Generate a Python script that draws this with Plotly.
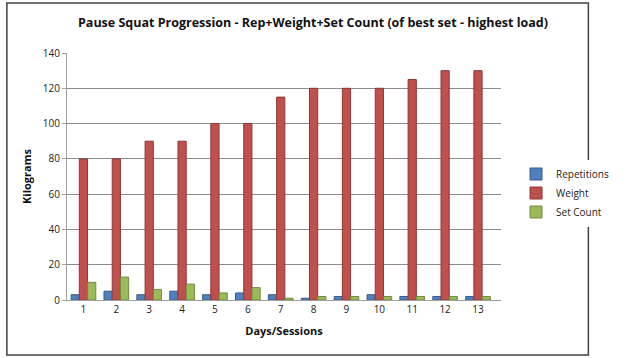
import plotly.graph_objects as go

days = [str(i) for i in range(1, 14)]
repetitions = [3, 5, 3, 5, 3, 4, 3, 1, 2, 3, 2, 2, 2]
weight = [80, 80, 90, 90, 100, 100, 115, 120, 120, 120, 125, 130, 130]
set_count = [10, 13, 6, 9, 4, 7, 1, 2, 2, 2, 2, 2, 2]
y_ticks = [0, 20, 40, 60, 80, 100, 120, 140]

W, H = 626, 358
L, R, T, B = 67, 97, 53, 58

FONT = "Open Sans"

fig = go.Figure()
fig.add_trace(go.Bar(x=days, y=repetitions, name="Repetitions",
                     marker=dict(color="#4F81BD", line=dict(color="#385D8A", width=1))))
fig.add_trace(go.Bar(x=days, y=weight, name="Weight",
                     marker=dict(color="#C0504D", line=dict(color="#8C3836", width=1))))
fig.add_trace(go.Bar(x=days, y=set_count, name="Set Count",
                     marker=dict(color="#9BBB59", line=dict(color="#71893F", width=1))))

pw = W - L - R
ph = H - T - B


def px_x(p):
    return (p - L) / pw


def px_y(p):
    return (H - B - p) / ph


fig.update_layout(
    width=W, height=H,
    margin=dict(l=L, r=R, t=T, b=B),
    paper_bgcolor="white", plot_bgcolor="white",
    barmode="group", bargap=0.25, bargroupgap=0.0,
    font=dict(family=FONT, size=10, color="#222"),
    title=dict(text="<b>Pause Squat Progression - Rep+Weight+Set Count (of best set - highest load)</b>",
               x=0.5, xanchor="center", y=1 - 23 / H, yanchor="middle",
               font=dict(family=FONT, size=12.5, color="#111")),
    legend=dict(x=px_x(545), xanchor="left", y=px_y(193), yanchor="middle",
                font=dict(family=FONT, size=10, color="#222"),
                itemwidth=30, tracegroupgap=2),
    xaxis=dict(title=dict(text="<b>Days/Sessions</b>", font=dict(family=FONT, size=11, color="#111"), standoff=12),
               range=[-0.5, 12.7],
               showline=True, linecolor="#A0A0A0", ticks="", tickfont=dict(size=10)),
    yaxis=dict(title=dict(text="<b>Kilograms</b>", font=dict(family=FONT, size=11, color="#111"), standoff=8),
               range=[0, 140], tickvals=y_ticks, showgrid=True, gridcolor="#8C8C8C", gridwidth=1,
               showline=True, linecolor="#A0A0A0", ticks="outside", ticklen=4, tickcolor="#A0A0A0",
               tickfont=dict(size=10), zeroline=False),
    shapes=[dict(type="rect", xref="paper", yref="paper",
                 x0=px_x(3), x1=px_x(622),
                 y0=px_y(355), y1=px_y(3),
                 line=dict(color="#404040", width=1.5), fillcolor="rgba(0,0,0,0)")],
)

fig.write_html("out.html", config={"displayModeBar": False},
               post_script="document.body.style.margin='0';")
